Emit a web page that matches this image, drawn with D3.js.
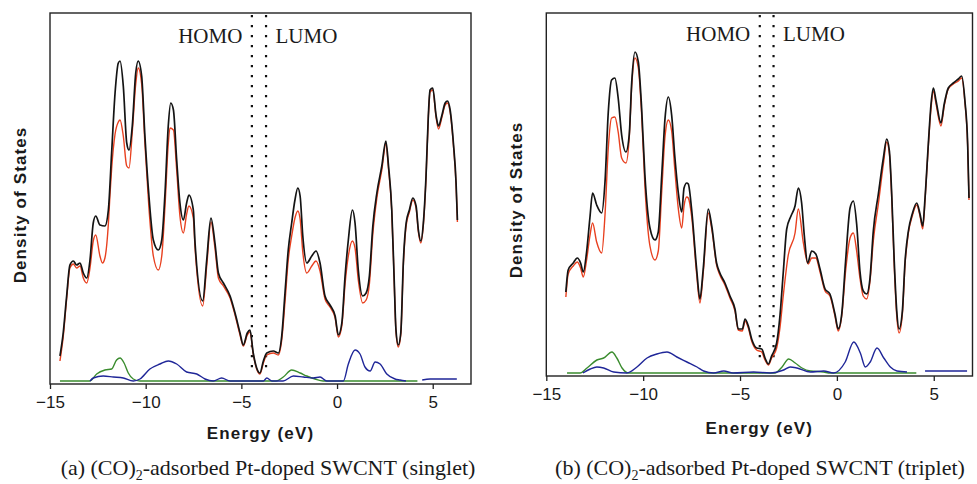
<!DOCTYPE html>
<html><head><meta charset="utf-8">
<script src="https://cdn.jsdelivr.net/npm/d3@7"></script>
<style>body{margin:0;background:#fff} svg{display:block}</style>
</head><body>
<svg id="chart" width="977" height="484"></svg>
<script>
// ---------- data (energy in eV, density of states in arbitrary units) ----------
const xTicks = [-15, -10, -5, 0, 5];
const energyDomain = [-15, 7];
const seriesNames = ["total", "Pt-doped SWCNT", "CO", "Pt"];
const seriesColors = ["#141414", "#e8401f", "#3a8c2e", "#1f2698"];
const levelLabels = ["HOMO", "LUMO"];
const captions = ["(a) (CO)", "(b) (CO)"];
const captionTails = ["-adsorbed Pt-doped SWCNT (singlet)", "-adsorbed Pt-doped SWCNT (triplet)"];
const singletLevels = [-4.45, -3.71];
const tripletLevels = [-3.98, -3.27];

const singletTotal = [[-14.48,28],[-14.31,51],[-14.13,88],[-13.96,119],[-13.78,123],[-13.61,119],[-13.43,121],[-13.26,111],[-13.08,106],[-12.91,124],[-12.74,161],[-12.61,168],[-12.39,159],[-12.13,158],[-11.95,174],[-11.78,231],[-11.60,291],[-11.43,321],[-11.34,323],[-11.17,298],[-10.99,241],[-10.87,234],[-10.70,258],[-10.52,311],[-10.39,323],[-10.21,308],[-10.04,248],[-9.83,188],[-9.60,144],[-9.34,134],[-9.16,144],[-8.99,191],[-8.82,258],[-8.69,281],[-8.55,274],[-8.38,224],[-8.21,181],[-8.03,164],[-7.86,181],[-7.74,189],[-7.51,174],[-7.42,141],[-7.02,83],[-6.81,124],[-6.59,166],[-6.38,141],[-6.20,111],[-5.94,101],[-5.59,88],[-5.33,71],[-5.07,51],[-4.90,39],[-4.69,51],[-4.55,54],[-4.38,31],[-4.20,16],[-4.03,11],[-3.85,23],[-3.67,31],[-3.33,33],[-3.07,31],[-2.89,48],[-2.72,91],[-2.55,134],[-2.37,161],[-2.20,184],[-2.05,196],[-1.93,188],[-1.79,148],[-1.58,121],[-1.32,128],[-1.10,133],[-0.89,121],[-0.63,88],[-0.37,79],[-0.10,68],[0.07,49],[0.25,61],[0.42,108],[0.59,144],[0.80,174],[0.94,161],[1.11,114],[1.34,88],[1.52,91],[1.69,108],[1.87,158],[2.08,191],[2.34,218],[2.55,243],[2.69,218],[2.86,174],[2.98,108],[3.08,54],[3.20,39],[3.33,51],[3.47,124],[3.61,161],[3.78,174],[3.96,186],[4.13,178],[4.25,154],[4.38,143],[4.51,161],[4.65,208],[4.77,268],[4.86,294],[5.00,296],[5.18,268],[5.30,258],[5.47,268],[5.65,281],[5.77,283],[5.91,274],[6.08,241],[6.22,201],[6.29,164]];
const singletTube = [[-14.48,23],[-14.31,47],[-14.13,85],[-13.96,116],[-13.78,120],[-13.61,116],[-13.43,118],[-13.26,106],[-13.08,101],[-12.91,116],[-12.74,143],[-12.61,149],[-12.39,128],[-12.26,121],[-12.13,126],[-11.95,160],[-11.86,191],[-11.78,215],[-11.60,250],[-11.43,262],[-11.34,264],[-11.17,248],[-10.99,218],[-10.87,216],[-10.70,252],[-10.52,300],[-10.39,316],[-10.21,300],[-10.04,240],[-9.83,176],[-9.60,128],[-9.34,114],[-9.16,128],[-8.99,178],[-8.82,240],[-8.73,256],[-8.55,254],[-8.38,214],[-8.21,168],[-8.03,151],[-7.86,170],[-7.74,178],[-7.51,166],[-7.42,136],[-7.02,78],[-6.81,118],[-6.59,162],[-6.38,136],[-6.20,106],[-5.94,98],[-5.59,86],[-5.33,69],[-5.07,49],[-4.90,38],[-4.69,49],[-4.55,52],[-4.38,30],[-4.20,15],[-4.03,10],[-3.85,21],[-3.67,29],[-3.33,31],[-3.07,29],[-2.89,44],[-2.72,82],[-2.55,124],[-2.37,148],[-2.20,166],[-2.05,173],[-1.93,165],[-1.79,132],[-1.58,111],[-1.32,118],[-1.10,123],[-0.89,113],[-0.63,85],[-0.37,77],[-0.10,66],[0.07,47],[0.25,58],[0.42,100],[0.59,128],[0.80,143],[0.94,136],[1.11,104],[1.34,81],[1.52,84],[1.69,100],[1.87,150],[2.08,186],[2.34,214],[2.55,240],[2.69,215],[2.86,172],[2.98,106],[3.08,52],[3.20,37],[3.33,49],[3.47,121],[3.61,158],[3.78,172],[3.96,184],[4.13,176],[4.25,152],[4.38,141],[4.51,159],[4.65,206],[4.77,266],[4.86,292],[5.00,294],[5.18,266],[5.30,255],[5.47,266],[5.65,279],[5.77,281],[5.91,272],[6.08,239],[6.22,199],[6.29,162]];
const singletCO = [[-14.48,3],[-12.91,3],[-12.56,10],[-12.13,14],[-11.78,15],[-11.52,24],[-11.34,26],[-11.13,21],[-10.91,11],[-10.65,5],[-10.30,3],[-3.19,3],[-2.81,7],[-2.37,14],[-1.93,11],[-1.58,8],[-1.15,5],[-0.73,3],[4.2,3]];
const singletPt = [[-12.91,3],[-12.74,6],[-12.22,8],[-11.69,7],[-11.17,6],[-10.65,3],[-10.30,5],[-9.78,15],[-9.25,20],[-8.82,23],[-8.38,20],[-7.86,12],[-7.33,10],[-6.90,5],[-6.47,3],[-6.03,6],[-5.59,3],[-3.85,3],[-3.67,6],[-3.40,3],[-2.82,3],[-2.28,8],[-1.76,7],[-1.24,6],[-0.89,7],[-0.54,3],[0.33,3],[0.59,20],[0.94,34],[1.20,30],[1.46,17],[1.73,13],[1.99,22],[2.25,20],[2.60,10],[3.03,5],[3.29,4],[3.60,3],[3.9,null],[4.45,4],[4.86,5],[6.26,5]];

const tripletTotal = [[-13.99,84],[-13.87,106],[-13.61,113],[-13.40,118],[-13.23,113],[-13.09,104],[-12.92,124],[-12.75,158],[-12.61,183],[-12.40,171],[-12.14,163],[-11.97,194],[-11.80,264],[-11.63,296],[-11.46,298],[-11.29,278],[-11.11,241],[-10.89,224],[-10.72,241],[-10.59,294],[-10.42,324],[-10.25,314],[-10.08,268],[-9.91,201],[-9.65,148],[-9.39,136],[-9.22,144],[-9.04,201],[-8.87,258],[-8.70,279],[-8.53,261],[-8.36,218],[-8.19,184],[-8.01,164],[-7.89,188],[-7.75,193],[-7.67,192],[-7.50,167],[-7.24,107],[-7.07,77],[-6.90,107],[-6.64,167],[-6.46,150],[-6.21,113],[-6.04,103],[-5.78,93],[-5.52,80],[-5.26,67],[-5.09,47],[-4.88,47],[-4.74,57],[-4.57,50],[-4.40,37],[-4.14,28],[-3.88,27],[-3.71,18],[-3.54,12],[-3.37,20],[-3.11,33],[-2.94,60],[-2.77,103],[-2.59,147],[-2.37,160],[-2.16,170],[-1.99,188],[-1.82,173],[-1.68,140],[-1.51,113],[-1.30,125],[-1.09,122],[-0.87,107],[-0.61,87],[-0.36,82],[-0.10,62],[0.07,47],[0.25,62],[0.45,115],[0.68,168],[0.85,175],[1.02,152],[1.19,105],[1.36,85],[1.54,82],[1.71,98],[1.88,145],[2.14,182],[2.40,218],[2.57,237],[2.71,225],[2.83,182],[2.96,115],[3.09,65],[3.21,47],[3.38,65],[3.52,115],[3.69,145],[3.89,162],[4.12,173],[4.29,162],[4.43,150],[4.55,178],[4.72,232],[4.86,272],[4.98,288],[5.12,275],[5.37,253],[5.54,272],[5.75,288],[6.01,293],[6.27,297],[6.44,300],[6.61,275],[6.75,232],[6.82,178]];
const tripletTube = [[-13.99,79],[-13.87,102],[-13.61,110],[-13.40,114],[-13.23,108],[-13.09,99],[-12.92,116],[-12.75,140],[-12.61,153],[-12.40,134],[-12.14,123],[-11.97,161],[-11.80,228],[-11.63,258],[-11.46,259],[-11.29,244],[-11.11,218],[-10.89,213],[-10.72,238],[-10.59,290],[-10.42,318],[-10.25,308],[-10.08,262],[-9.91,190],[-9.65,130],[-9.39,116],[-9.22,125],[-9.04,185],[-8.87,240],[-8.70,256],[-8.53,245],[-8.36,205],[-8.19,168],[-8.01,148],[-7.89,170],[-7.75,179],[-7.67,178],[-7.50,160],[-7.24,102],[-7.07,73],[-6.90,103],[-6.64,163],[-6.46,147],[-6.21,111],[-6.04,101],[-5.78,91],[-5.52,78],[-5.26,65],[-5.09,46],[-4.88,45],[-4.74,55],[-4.57,48],[-4.40,35],[-4.14,26],[-3.88,24],[-3.71,16],[-3.54,11],[-3.37,18],[-3.11,28],[-2.94,48],[-2.77,80],[-2.51,121],[-2.16,143],[-1.99,167],[-1.73,133],[-1.48,112],[-1.30,118],[-1.09,118],[-0.87,104],[-0.61,85],[-0.36,80],[-0.10,60],[0.07,45],[0.25,60],[0.45,105],[0.68,138],[0.85,143],[1.02,125],[1.19,98],[1.36,80],[1.54,77],[1.71,95],[1.88,135],[2.14,172],[2.40,212],[2.57,234],[2.71,222],[2.83,178],[2.96,110],[3.09,60],[3.21,43],[3.38,62],[3.52,112],[3.69,143],[3.89,160],[4.12,171],[4.29,160],[4.43,147],[4.55,176],[4.72,230],[4.86,268],[4.98,285],[5.12,272],[5.37,250],[5.54,270],[5.75,287],[6.01,292],[6.27,295],[6.44,298],[6.61,273],[6.75,230],[6.82,176]];
const tripletCO = [[-13.93,3],[-13.26,3],[-12.90,8],[-12.39,16],[-12.04,18],[-11.61,24],[-11.36,18],[-11.09,8],[-10.75,3],[-3.20,3],[-2.83,9],[-2.49,17],[-2.15,13],[-1.80,8],[-1.37,5],[-0.68,4],[-0.36,3],[4.1,3]];
const tripletPt = [[-13.11,3],[-12.73,7],[-12.39,9],[-12.04,8],[-11.52,4],[-10.84,3],[-10.32,9],[-9.80,18],[-9.29,22],[-8.77,24],[-8.26,19],[-7.74,14],[-7.22,9],[-6.88,5],[-6.36,3],[-5.84,5],[-5.36,3],[-4.30,4],[-3.45,3],[-2.75,6],[-2.41,9],[-2.06,8],[-1.37,4],[-0.68,5],[-0.17,3],[0.43,14],[0.87,34],[1.21,23],[1.47,9],[1.72,14],[2.07,28],[2.42,18],[2.76,9],[3.10,5],[3.62,4],[4.0,null],[4.55,5],[6.72,5]];

// ---------- drawing ----------
const svg = d3.select("#chart");

const panels = [
  { x0: 50, x1: 471, top: 13, axisY: 384, yMax: 371, levels: singletLevels,
    series: [singletPt, singletCO, singletTube, singletTotal],
    cap: 0, capX: 268, ylabX: 20, ylabY: 205, xlabY: 439, levelY: 43 },
  { x0: 546.3, x1: 972.5, top: 13, axisY: 376, yMax: 363, levels: tripletLevels,
    series: [tripletPt, tripletCO, tripletTube, tripletTotal],
    cap: 1, capX: 760, ylabX: 516, ylabY: 200, xlabY: 434, levelY: 41 }
];

panels.forEach(p => {
  const x = d3.scaleLinear().domain(energyDomain).range([p.x0, p.x1]);
  const y = d3.scaleLinear().domain([0, p.yMax]).range([p.axisY, p.top]);
  const g = svg.append("g");

  // dotted HOMO / LUMO lines
  p.levels.forEach((e, i) => {
    g.append("line")
      .attr("x1", x(e)).attr("x2", x(e))
      .attr("y1", p.top + 2).attr("y2", y(13))
      .attr("stroke", "#111").attr("stroke-width", 2.2)
      .attr("stroke-dasharray", "2.2,7.8");
    g.append("text")
      .attr("x", i === 0 ? x(e) - 9.5 : x(e) + 9.5)
      .attr("y", p.levelY)
      .attr("text-anchor", i === 0 ? "end" : "start")
      .attr("font-family", "'Liberation Serif','Times New Roman',serif")
      .attr("font-size", 21).attr("fill", "#1a1a1a")
      .text(levelLabels[i]);
  });

  // curves
  const line = d3.line()
    .defined(d => d[1] != null)
    .curve(d3.curveMonotoneX)
    .x(d => x(d[0])).y(d => y(d[1]));
  const colorIdx = [3, 2, 1, 0];
  const drawOrder = [1, 0, 2, 3]; // CO, Pt, tube, total
  drawOrder.forEach(k => {
    g.append("path")
      .datum(p.series[k])
      .attr("d", line)
      .attr("fill", "none")
      .attr("stroke", seriesColors[colorIdx[k]])
      .attr("stroke-width", k === 3 ? 1.7 : 1.4)
      .attr("stroke-linejoin", "round");
  });

  // frame
  g.append("rect")
    .attr("x", p.x0).attr("y", p.top)
    .attr("width", p.x1 - p.x0).attr("height", p.axisY - p.top)
    .attr("fill", "none").attr("stroke", "#222").attr("stroke-width", 1.4);

  // bottom axis
  const ax = g.append("g")
    .attr("transform", `translate(0,${p.axisY})`)
    .call(d3.axisBottom(x).tickValues(xTicks).tickSize(5).tickSizeOuter(0).tickPadding(7));
  ax.select(".domain").remove();
  ax.selectAll(".tick line").attr("stroke", "#222").attr("stroke-width", 1.3);
  ax.selectAll(".tick text")
    .attr("font-family", "'Liberation Sans',Arial,sans-serif")
    .attr("font-size", 17).attr("fill", "#1a1a1a");

  // axis titles
  svg.append("text")
    .attr("x", (p.x0 + p.x1) / 2).attr("y", p.xlabY)
    .attr("text-anchor", "middle")
    .attr("font-family", "'Liberation Sans',Arial,sans-serif")
    .attr("font-weight", "bold").attr("font-size", 17)
    .attr("letter-spacing", "1.2px").attr("fill", "#1a1a1a")
    .text("Energy (eV)");
  svg.append("text")
    .attr("transform", `translate(${p.ylabX},${p.ylabY}) rotate(-90)`)
    .attr("text-anchor", "middle").attr("dominant-baseline", "central")
    .attr("font-family", "'Liberation Sans',Arial,sans-serif")
    .attr("font-weight", "bold").attr("font-size", 17)
    .attr("letter-spacing", "1.1px").attr("fill", "#1a1a1a")
    .text("Density of States");

  // caption
  const cap = svg.append("text")
    .attr("x", p.capX).attr("y", 475)
    .attr("text-anchor", "middle")
    .attr("font-family", "'Liberation Serif','Times New Roman',serif")
    .attr("font-size", 22).attr("fill", "#1a1a1a");
  cap.append("tspan").text(captions[p.cap]);
  cap.append("tspan").attr("font-size", 14).attr("dy", 5).text("2");
  cap.append("tspan").attr("dy", -5).text(captionTails[p.cap]);
});
</script>
</body></html>
